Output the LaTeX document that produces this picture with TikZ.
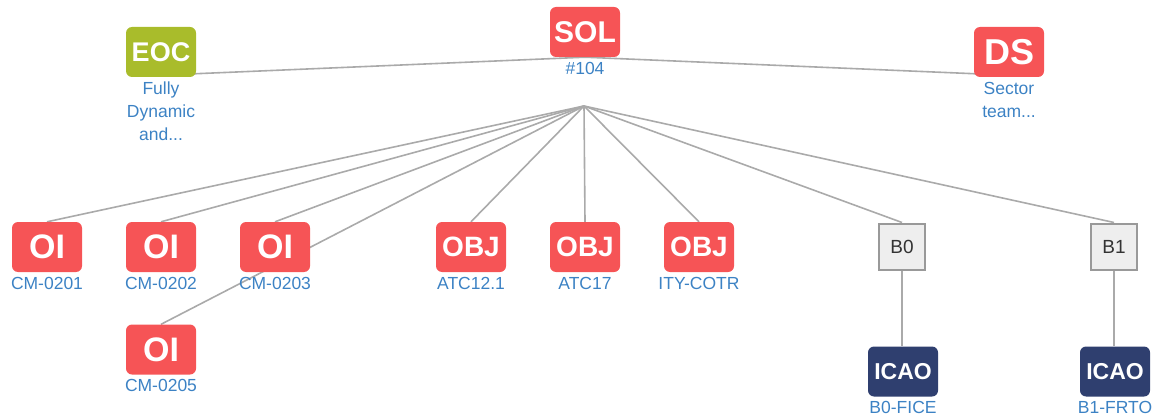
\documentclass[tikz,border=0pt]{standalone}
\usepackage{fontspec}
\setmainfont{Liberation Sans}
\usetikzlibrary{backgrounds}
\definecolor{boxred}{HTML}{F65456}
\definecolor{boxolive}{HTML}{A9BC2B}
\definecolor{boxnavy}{HTML}{2F3F6F}
\definecolor{labelblue}{HTML}{3C82C4}
\definecolor{linegray}{HTML}{AAAAAA}
\definecolor{sqfill}{HTML}{EEEEEE}
\definecolor{sqdraw}{HTML}{999999}
\begin{document}
\begin{tikzpicture}[x=1pt,y=-1pt,
  tag/.style={rounded corners=6pt, minimum width=70pt, minimum height=50pt, inner sep=0pt, text=white, font=\bfseries},
  redtag/.style={tag, fill=boxred},
  lbl/.style={text=labelblue, font=\fontsize{17.5}{23}\selectfont, align=center, inner sep=0pt, anchor=north, yshift=-4.5pt},
  sq/.style={fill=sqfill, draw=sqdraw, line width=2pt, minimum width=46pt, minimum height=46pt, inner sep=0pt, text=black!80, font=\fontsize{19}{19}\selectfont},
  edge/.style={draw=linegray, line width=1.6pt}]
\useasboundingbox (0,0) rectangle (1158,414);

% boxes
\node[redtag, font=\bfseries\fontsize{30}{30}\selectfont] (sol) at (585,32) {SOL};
\node[tag, fill=boxolive, font=\bfseries\fontsize{27}{27}\selectfont] (eoc) at (161,52) {EOC};
\node[redtag, font=\bfseries\fontsize{36}{36}\selectfont] (ds) at (1009,52) {DS};

\node[redtag, font=\bfseries\fontsize{34}{34}\selectfont] (oi1) at (47,247) {OI};
\node[redtag, font=\bfseries\fontsize{34}{34}\selectfont] (oi2) at (161,247) {OI};
\node[redtag, font=\bfseries\fontsize{34}{34}\selectfont] (oi3) at (275,247) {OI};
\node[redtag, font=\bfseries\fontsize{34}{34}\selectfont] (oi5) at (161,349.5) {OI};

\node[redtag, font=\bfseries\fontsize{28}{28}\selectfont] (obj1) at (471,247) {OBJ};
\node[redtag, font=\bfseries\fontsize{28}{28}\selectfont] (obj2) at (585,247) {OBJ};
\node[redtag, font=\bfseries\fontsize{28}{28}\selectfont] (obj3) at (699,247) {OBJ};

\node[sq] (b0) at (902,246.5) {B0};
\node[sq] (b1) at (1114,246.5) {B1};

\node[tag, fill=boxnavy, font=\bfseries\fontsize{23}{23}\selectfont] (icao1) at (903,371.5) {ICAO};
\node[tag, fill=boxnavy, font=\bfseries\fontsize{23}{23}\selectfont] (icao2) at (1115,371.5) {ICAO};

% labels
\node[lbl] (lsol) at (sol.south) {\#104};
\node[lbl] (leoc) at (eoc.south) {Fully\\Dynamic\\and...};
\node[lbl] (lds) at (ds.south) {Sector\\team...};
\node[lbl] (loi1) at (oi1.south) {CM-0201};
\node[lbl] (loi2) at (oi2.south) {CM-0202};
\node[lbl] (loi3) at (oi3.south) {CM-0203};
\node[lbl] (loi5) at (oi5.south) {CM-0205};
\node[lbl] (lobj1) at (obj1.south) {ATC12.1};
\node[lbl] (lobj2) at (obj2.south) {ATC17};
\node[lbl] (lobj3) at (obj3.south) {ITY-COTR};
\node[lbl] (licao1) at (icao1.south) {B0-FICE};
\node[lbl] (licao2) at (icao2.south) {B1-FRTO};

\coordinate (hub) at (584,106);

\begin{scope}[on background layer]
\draw[edge] ([yshift=2pt]eoc.south) -- (sol.south);
\draw[edge] ([yshift=2pt]ds.south) -- (sol.south);
\foreach \n in {oi1,oi2,oi3,oi5,obj1,obj2,obj3,b0,b1}
  \draw[edge] (hub) -- (\n.north);
\draw[edge] (b0.south) -- (b0.south |- icao1.north);
\draw[edge] (b1.south) -- (b1.south |- icao2.north);
\end{scope}
\end{tikzpicture}
\end{document}
